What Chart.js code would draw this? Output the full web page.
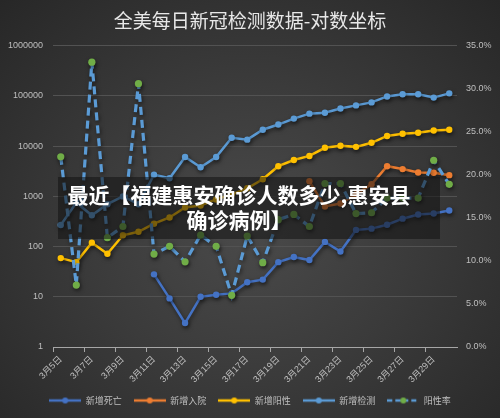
<!DOCTYPE html>
<html>
<head>
<meta charset="utf-8">
<script src="https://cdn.jsdelivr.net/npm/chart.js@4.4.0/dist/chart.umd.min.js"></script>
<style>
  html, body { margin: 0; padding: 0; }
  body {
    width: 500px; height: 418px; overflow: hidden;
    background: radial-gradient(ellipse at 50% 55%, #4a4a4a 0%, #3b3b3b 45%, #272727 100%);
  }
  #wrap { position: relative; width: 500px; height: 418px; }
  #note {
    position: absolute; left: 58px; top: 177px; width: 382px; height: 62px;
    background: rgba(18, 18, 18, 0.55);
    color: #ffffff; font-family: 'Noto Sans CJK SC', sans-serif; font-weight: bold;
    font-size: 21px; line-height: 25px; text-align: center;
    box-sizing: border-box; padding: 5px 20px 0 0;
  }
</style>
</head>
<body>
<div id="wrap">
  <canvas id="chart" width="500" height="418"></canvas>
  <div id="note">最近【福建惠安确诊人数多少,惠安县<br>确诊病例】</div>
</div>
<script>
const dates = ['3月5日', '3月6日', '3月7日', '3月8日', '3月9日', '3月10日', '3月11日', '3月12日', '3月13日',
  '3月14日', '3月15日', '3月16日', '3月17日', '3月18日', '3月19日', '3月20日', '3月21日', '3月22日',
  '3月23日', '3月24日', '3月25日', '3月26日', '3月27日', '3月28日', '3月29日', '3月30日'];

const deaths = [null, null, null, null, null, null, 28, 9.3, 3, 10, 11, 11.7, 19.5, 22, 49, 62, 54, 124,
  80, 215, 228, 272, 360, 435, 455, 525];
const hospital = [null, null, null, null, null, null, null, null, null, null, null, null, null, null, null, null,
  2000, 630, 720, 1100, 1750, 4000, 3500, 3000, 2950, 2650];
const positive = [59, 49, 120, 72, 168, 197, 286, 380, 600, 660, 870, 1100, 1450, 2200, 4000, 5300, 6400,
  9300, 10200, 9700, 11700, 16000, 17700, 18500, 20500, 21300];
const tests = [270, 750, 420, 700, 1000, 700, 2700, 2300, 6100, 3800, 6100, 14700, 13500, 21300, 27000,
  35500, 44500, 46500, 56500, 65000, 74500, 98000, 108000, 108000, 93000, 113000];
const posRate = [22.1, 7.2, 33.1, 12.7, 14.0, 30.6, 10.8, 11.7, 9.9, 13.0, 11.7, 6.0, 12.9, 9.8, 14.8, 15.4,
  14.0, 19.0, 19.0, 15.5, 15.6, 17.3, 17.3, 17.3, 21.7, 18.9];

const logTicks = [1, 10, 100, 1000, 10000, 100000, 1000000];

Chart.defaults.font.family = "'Liberation Sans', 'Noto Sans CJK SC', sans-serif";
Chart.defaults.color = '#bfbfbf';

// little line+marker pictures for the legend
function legendIcon(lineColor, dotColor, dash) {
    const c = document.createElement('canvas');
    c.width = 32; c.height = 8;
    const g = c.getContext('2d');
    g.strokeStyle = lineColor;
    g.lineWidth = 2.5;
    if (dash) g.setLineDash(dash);
    g.beginPath(); g.moveTo(0, 4); g.lineTo(32, 4); g.stroke();
    g.fillStyle = dotColor;
    g.beginPath(); g.arc(16, 4, 3, 0, Math.PI * 2); g.fill();
    return c;
}

const shadowPlugin = {
    id: 'lineShadow',
    beforeDatasetDraw(chart) {
        const c = chart.ctx;
        c.save();
        c.shadowColor = 'rgba(0,0,0,0.55)';
        c.shadowBlur = 4;
        c.shadowOffsetX = 1;
        c.shadowOffsetY = 2;
    },
    afterDatasetDraw(chart) {
        chart.ctx.restore();
    }
};

function lineSet(label, data, color, order) {
    return {
        label: label,
        data: data,
        borderColor: color,
        backgroundColor: color,
        pointBackgroundColor: color,
        pointBorderColor: color,
        borderWidth: 2.5,
        pointRadius: 3.2,
        pointBorderWidth: 0,
        tension: 0,
        yAxisID: 'y',
        order: order,
        icon: legendIcon(color, color)
    };
}

const datasets = [
    lineSet('新增死亡', deaths, '#4472C4', 4),
    lineSet('新增入院', hospital, '#ED7D31', 3),
    lineSet('新增阳性', positive, '#FFC000', 2),
    lineSet('新增检测', tests, '#5B9BD5', 1),
    {
        label: '阳性率',
        data: posRate,
        borderColor: '#5B9BD5',
        backgroundColor: '#70AD47',
        pointBackgroundColor: '#70AD47',
        pointBorderColor: '#70AD47',
        borderWidth: 3.2,
        borderDash: [8, 5],
        pointRadius: 3.6,
        pointBorderWidth: 0,
        tension: 0,
        yAxisID: 'y1',
        order: 0,
        icon: legendIcon('#5B9BD5', '#70AD47', [5, 3])
    }
];

new Chart(document.getElementById('chart'), {
    type: 'line',
    data: { labels: dates, datasets: datasets },
    plugins: [shadowPlugin],
    options: {
        responsive: false,
        animation: false,
        layout: { padding: { left: 0, right: 0, top: 0, bottom: 3 } },
        plugins: {
            title: {
                display: true,
                text: '全美每日新冠检测数据-对数坐标',
                color: '#e8e8e8',
                font: { size: 19, weight: 'normal', family: "'Noto Sans CJK SC', sans-serif" },
                padding: { top: 9, bottom: 14 }
            },
            legend: {
                position: 'bottom',
                labels: {
                    usePointStyle: true,
                    pointStyleWidth: 32,
                    boxHeight: 8,
                    padding: 12,
                    color: '#bfbfbf',
                    font: { size: 9, family: "'Noto Sans CJK SC', sans-serif" },
                    generateLabels: function(chart) {
                        return chart.data.datasets.map(function(ds, i) {
                            return {
                                text: ds.label,
                                pointStyle: ds.icon,
                                fillStyle: ds.backgroundColor,
                                strokeStyle: ds.borderColor,
                                lineWidth: 0,
                                hidden: false,
                                datasetIndex: i,
                                fontColor: '#bfbfbf'
                            };
                        });
                    }
                }
            },
            tooltip: { enabled: false }
        },
        scales: {
            x: {
                type: 'category',
                offset: true,
                afterFit: function(scale) { scale.height = 37; },
                grid: {
                    offset: true,
                    drawOnChartArea: false,
                    tickLength: 5,
                    color: function(ctx) { return ctx.index % 2 === 0 ? '#a6a6a6' : 'rgba(0,0,0,0)'; }
                },
                border: { color: '#a6a6a6', width: 1 },
                ticks: {
                    autoSkip: false,
                    maxRotation: 45,
                    minRotation: 45,
                    padding: 2,
                    font: { size: 9 },
                    callback: function(v, i) { return i % 2 === 0 ? dates[i] : ''; }
                }
            },
            y: {
                type: 'logarithmic',
                position: 'left',
                min: 1,
                max: 1000000,
                afterFit: function(scale) { scale.width = 53; },
                afterBuildTicks: function(scale) {
                    scale.ticks = logTicks.map(function(v) { return { value: v }; });
                },
                grid: { color: '#525252', tickLength: 0 },
                border: { display: false },
                ticks: {
                    padding: 10,
                    font: { size: 9 },
                    callback: function(v) { return String(v); }
                }
            },
            y1: {
                type: 'linear',
                position: 'right',
                min: 0,
                max: 35,
                afterFit: function(scale) { scale.width = 43; },
                grid: { drawOnChartArea: false, drawTicks: false },
                border: { display: false },
                ticks: {
                    stepSize: 5,
                    padding: 9,
                    font: { size: 9 },
                    callback: function(v) { return v.toFixed(1) + '%'; }
                }
            }
        }
    }
});
</script>
</body>
</html>
